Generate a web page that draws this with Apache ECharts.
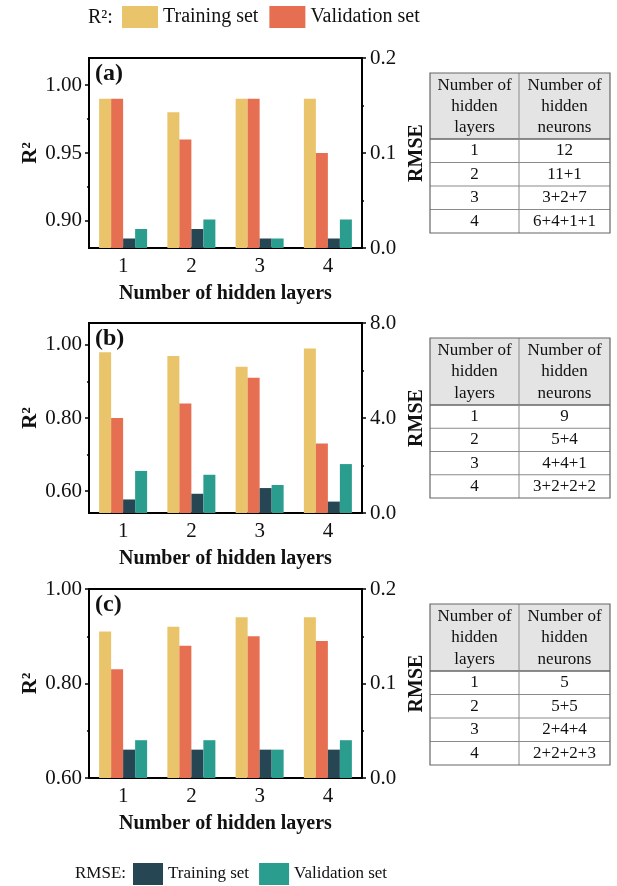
<!DOCTYPE html>
<html>
<head>
<meta charset="utf-8">
<script src="https://cdn.jsdelivr.net/npm/echarts@6/dist/echarts.min.js"></script>
<style>
html,body{margin:0;padding:0;background:#fff;}
#chart{width:617px;height:886px;}
</style>
</head>
<body>
<div id="chart"></div>
<script>
// ---------- data ----------
const categories = ['1', '2', '3', '4'];

const r2TrainA = [0.99, 0.98, 0.99, 0.99];
const r2ValA = [0.99, 0.96, 0.99, 0.95];
const rmseTrainA = [0.01, 0.02, 0.01, 0.01];
const rmseValA = [0.02, 0.03, 0.01, 0.03];

const r2TrainB = [0.98, 0.97, 0.94, 0.99];
const r2ValB = [0.80, 0.84, 0.91, 0.73];
const rmseTrainB = [0.57, 0.81, 1.05, 0.48];
const rmseValB = [1.77, 1.61, 1.18, 2.06];

const r2TrainC = [0.91, 0.92, 0.94, 0.94];
const r2ValC = [0.83, 0.88, 0.90, 0.89];
const rmseTrainC = [0.03, 0.03, 0.03, 0.03];
const rmseValC = [0.04, 0.04, 0.03, 0.04];

// axis ranges and tick labels
const r2RangeA = [0.88, 1.02];
const r2TicksA = [0.90, 0.95, 1.00];
const r2MinorA = [0.925, 0.975];
const rmseRangeA = [0, 0.2];
const rmseTicksA = [0, 0.1, 0.2];
const rmseMinorA = [0.05, 0.15];

const r2RangeB = [0.54, 1.06];
const r2TicksB = [0.60, 0.80, 1.00];
const r2MinorB = [0.70, 0.90];
const rmseRangeB = [0, 8];
const rmseTicksB = [0, 4, 8];
const rmseMinorB = [2, 6];

const r2RangeC = [0.60, 1.00];
const r2TicksC = [0.60, 0.80, 1.00];
const r2MinorC = [0.70, 0.90];
const rmseRangeC = [0, 0.2];
const rmseTicksC = [0, 0.1, 0.2];
const rmseMinorC = [0.05, 0.15];

// tables
const tableHeader = [['Number of', 'hidden', 'layers'], ['Number of', 'hidden', 'neurons']];
const tableLayers = ['1', '2', '3', '4'];
const neuronsA = ['12', '11+1', '3+2+7', '6+4+1+1'];
const neuronsB = ['9', '5+4', '4+4+1', '3+2+2+2'];
const neuronsC = ['5', '5+5', '2+4+4', '2+2+2+3'];

const panelLabels = ['(a)', '(b)', '(c)'];
const seriesNames = ['R2 Training', 'R2 Validation', 'RMSE Training', 'RMSE Validation'];
const legendText = {'R2 Training': 'Training set', 'R2 Validation': 'Validation set',
  'RMSE Training': 'Training set', 'RMSE Validation': 'Validation set'};

// ---------- style / layout ----------
const FONT = '"Liberation Serif", "Times New Roman", serif';
const COLORS = ['#E9C46A', '#E76F51', '#264653', '#2A9D8F'];
const GRID_LEFT = 89, GRID_W = 273;
const grids = [
  {top: 58, height: 190},
  {top: 323, height: 190},
  {top: 589, height: 189}
];
const panels = [
  {r2T: r2TrainA, r2V: r2ValA, rmT: rmseTrainA, rmV: rmseValA,
   r2R: r2RangeA, r2Tk: r2TicksA, r2Mn: r2MinorA, rmR: rmseRangeA, rmTk: rmseTicksA, rmMn: rmseMinorA,
   r2Dec: 2, rmDec: 1},
  {r2T: r2TrainB, r2V: r2ValB, rmT: rmseTrainB, rmV: rmseValB,
   r2R: r2RangeB, r2Tk: r2TicksB, r2Mn: r2MinorB, rmR: rmseRangeB, rmTk: rmseTicksB, rmMn: rmseMinorB,
   r2Dec: 2, rmDec: 1},
  {r2T: r2TrainC, r2V: r2ValC, rmT: rmseTrainC, rmV: rmseValC,
   r2R: r2RangeC, r2Tk: r2TicksC, r2Mn: r2MinorC, rmR: rmseRangeC, rmTk: rmseTicksC, rmMn: rmseMinorC,
   r2Dec: 2, rmDec: 1}
];

const option = {
  backgroundColor: '#fff',
  animation: false,
  textStyle: {fontFamily: FONT},
  grid: [], xAxis: [], yAxis: [], series: [],
  legend: [
    {data: seriesNames.slice(0, 2), left: 117, top: 1, itemWidth: 36, itemHeight: 22, itemGap: 11,
     icon: 'rect', selectedMode: false, formatter: n => legendText[n],
     textStyle: {fontFamily: FONT, fontSize: 20, color: '#111'}},
    {data: seriesNames.slice(2), left: 128, top: 858, itemWidth: 30, itemHeight: 22, itemGap: 10,
     icon: 'rect', selectedMode: false, formatter: n => legendText[n],
     textStyle: {fontFamily: FONT, fontSize: 17, color: '#111'}}
  ],
  graphic: []
};

panels.forEach((p, g) => {
  const gr = grids[g];
  option.grid.push({left: GRID_LEFT, top: gr.top, width: GRID_W, height: gr.height,
    show: true, borderColor: '#000', borderWidth: 2, backgroundColor: 'transparent'});
  // main x axis (center ticks)
  option.xAxis.push({type: 'category', gridIndex: g, data: categories, position: 'bottom',
    axisLine: {lineStyle: {color: '#000', width: 2}},
    axisTick: {alignWithLabel: true, length: 5, lineStyle: {color: '#000', width: 1.5}},
    axisLabel: {fontFamily: FONT, fontSize: 21, color: '#111', margin: 8},
    name: 'Number of hidden layers', nameLocation: 'middle', nameGap: 36,
    nameTextStyle: {fontFamily: FONT, fontSize: 20, fontWeight: 'bold', color: '#111'}});
  // boundary minor ticks
  option.xAxis.push({type: 'category', gridIndex: g, data: categories, position: 'bottom',
    axisLine: {show: false},
    axisTick: {alignWithLabel: false, length: 3, lineStyle: {color: '#000', width: 1.5}},
    axisLabel: {show: false}});
  const dec = (d) => (v) => Number(v).toFixed(d);
  // left R2 axis
  option.yAxis.push({type: 'value', gridIndex: g, position: 'left', min: p.r2R[0], max: p.r2R[1],
    splitLine: {show: false},
    axisLine: {show: true, lineStyle: {color: '#000', width: 2}},
    axisTick: {show: true, length: 4, customValues: p.r2Tk, lineStyle: {color: '#000', width: 1.5}},
    axisLabel: {customValues: p.r2Tk, formatter: dec(p.r2Dec), fontFamily: FONT, fontSize: 21, color: '#111', margin: 7},
    name: 'R²', nameLocation: 'middle', nameRotate: 90, nameGap: 48,
    nameTextStyle: {fontFamily: FONT, fontSize: 21, fontWeight: 'bold', color: '#111'}});
  option.yAxis.push({type: 'value', gridIndex: g, position: 'left', min: p.r2R[0], max: p.r2R[1],
    splitLine: {show: false}, axisLine: {show: false},
    axisTick: {show: true, length: 2, customValues: p.r2Mn, lineStyle: {color: '#000', width: 1.5}},
    axisLabel: {show: false}});
  // right RMSE axis
  option.yAxis.push({type: 'value', gridIndex: g, position: 'right', min: p.rmR[0], max: p.rmR[1],
    splitLine: {show: false},
    axisLine: {show: true, lineStyle: {color: '#000', width: 2}},
    axisTick: {show: true, length: 4, customValues: p.rmTk, lineStyle: {color: '#000', width: 1.5}},
    axisLabel: {customValues: p.rmTk, formatter: dec(p.rmDec), fontFamily: FONT, fontSize: 21, color: '#111', margin: 8},
    name: 'RMSE', nameLocation: 'middle', nameRotate: 90, nameGap: 45,
    nameTextStyle: {fontFamily: FONT, fontSize: 20, fontWeight: 'bold', color: '#111'}});
  option.yAxis.push({type: 'value', gridIndex: g, position: 'right', min: p.rmR[0], max: p.rmR[1],
    splitLine: {show: false}, axisLine: {show: false},
    axisTick: {show: true, length: 2, customValues: p.rmMn, lineStyle: {color: '#000', width: 1.5}},
    axisLabel: {show: false}});

  const dataSets = [p.r2T, p.r2V, p.rmT, p.rmV];
  const yIdx = [4 * g, 4 * g, 4 * g + 2, 4 * g + 2];
  dataSets.forEach((d, i) => {
    option.series.push({type: 'bar', name: seriesNames[i], xAxisIndex: 2 * g, yAxisIndex: yIdx[i],
      data: d, barWidth: 12, barGap: '0%', clip: true,
      itemStyle: {color: COLORS[i]}});
  });

  option.graphic.push({type: 'text', left: 95, top: gr.top + 4,
    style: {text: panelLabels[g], font: 'bold 24px ' + FONT, fill: '#111'}});
});

// legend prefixes
option.graphic.push({type: 'text', x: 88, y: 18,
  style: {text: 'R²:', font: '20px ' + FONT, fill: '#111', verticalAlign: 'middle'}});
option.graphic.push({type: 'text', x: 75, y: 874,
  style: {text: 'RMSE:', font: '17px ' + FONT, fill: '#111', verticalAlign: 'middle'}});

// tables
const TX0 = 430, TX1 = 519, TX2 = 610;
const tables = [
  {rows: neuronsA, top: 73, head: 139, bottom: 233},
  {rows: neuronsB, top: 338, head: 405, bottom: 498},
  {rows: neuronsC, top: 604, head: 671, bottom: 765}
];
tables.forEach(t => {
  const els = [];
  els.push({type: 'rect', shape: {x: TX0, y: t.top, width: TX2 - TX0, height: t.head - t.top},
    style: {fill: '#e4e4e4'}});
  const rowH = (t.bottom - t.head) / t.rows.length;
  for (let i = 1; i < t.rows.length; i++) {
    const y = t.head + i * rowH;
    els.push({type: 'line', shape: {x1: TX0, y1: y, x2: TX2, y2: y}, style: {stroke: '#8a8a8a', lineWidth: 1}});
  }
  els.push({type: 'line', shape: {x1: TX0, y1: t.head, x2: TX2, y2: t.head}, style: {stroke: '#666', lineWidth: 1.5}});
  els.push({type: 'line', shape: {x1: TX1, y1: t.top, x2: TX1, y2: t.bottom}, style: {stroke: '#8a8a8a', lineWidth: 1}});
  els.push({type: 'rect', shape: {x: TX0, y: t.top, width: TX2 - TX0, height: t.bottom - t.top},
    style: {fill: 'none', stroke: '#666', lineWidth: 1.2}});
  const cols = [(TX0 + TX1) / 2, (TX1 + TX2) / 2];
  const headLH = (t.head - t.top) / 3.15;
  tableHeader.forEach((lines, c) => {
    lines.forEach((ln, k) => {
      els.push({type: 'text', x: cols[c], y: t.top + headLH * (k + 0.55) + 1,
        style: {text: ln, font: '17px ' + FONT, fill: '#111', align: 'center', verticalAlign: 'middle'}});
    });
  });
  t.rows.forEach((v, i) => {
    const cy = t.head + (i + 0.5) * rowH;
    els.push({type: 'text', x: cols[0], y: cy, style: {text: tableLayers[i], font: '17px ' + FONT, fill: '#111', align: 'center', verticalAlign: 'middle'}});
    els.push({type: 'text', x: cols[1], y: cy, style: {text: v, font: '17px ' + FONT, fill: '#111', align: 'center', verticalAlign: 'middle'}});
  });
  option.graphic.push({type: 'group', children: els});
});

const chart = echarts.init(document.getElementById('chart'), null, {renderer: 'canvas'});
chart.setOption(option);
</script>
</body>
</html>
